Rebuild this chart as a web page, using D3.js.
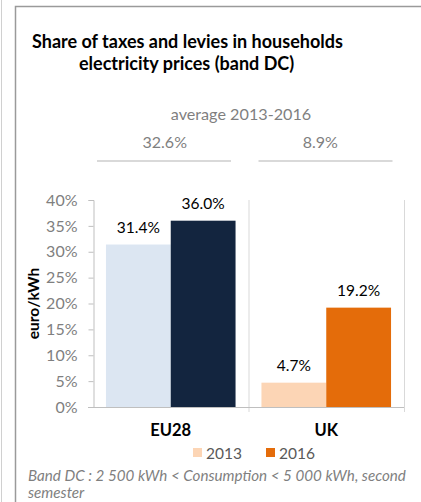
<!DOCTYPE html>
<head>
    <meta charset="utf-8">
    <title>Share of taxes and levies</title>
    <style>
        body { margin: 0; background: #fff; }
        text { font-family: Lato, "Open Sans", "Liberation Sans", sans-serif; }
    </style>
</head>
<body>

<script src="https://d3js.org/d3.v7.min.js"></script>

<script>

    var categories = ['EU28', 'UK'];
    var years = ['2013', '2016'];
    var values2013 = [0.314, 0.047];
    var values2016 = [0.360, 0.192];
    var averages = ['32.6%', '8.9%'];
    var yTicks = [0, 0.05, 0.10, 0.15, 0.20, 0.25, 0.30, 0.35, 0.40];

    var colors = {
        EU28: ['#dce6f2', '#13253f'],
        UK: ['#fcd5b5', '#e46c0a']
    };

    var width = 421, height = 502;
    var margin = {top: 200, right: 17, bottom: 95, left: 93};

    var svg = d3.select('body').append('svg')
        .attr('width', width)
        .attr('height', height);

    // frame
    svg.append('line')
        .attr('x1', 1.5).attr('x2', 1.5).attr('y1', 0).attr('y2', height)
        .attr('stroke', '#d0d0d0').attr('stroke-width', 1);
    svg.append('path')
        .attr('d', 'M15.5,' + height + 'V6.5H' + width)
        .attr('fill', 'none')
        .attr('stroke', '#9a9a9a')
        .attr('stroke-width', 1.5);

    var x = d3.scaleBand()
        .domain(categories)
        .range([margin.left, width - margin.right]);

    var xYear = d3.scaleBand()
        .domain(years)
        .range([0, x.bandwidth()])
        .paddingOuter(0.2);

    var y = d3.scaleLinear()
        .domain([0, 0.4])
        .range([height - margin.bottom, margin.top]);

    var data = categories.map(function(c, i) {
        return {cat: c, vals: [values2013[i], values2016[i]]};
    });

    // title
    svg.append('text')
        .attr('x', 32).attr('y', 48)
        .attr('font-size', '18px').attr('font-weight', 'bold')
        .text('Share of taxes and levies in households');
    svg.append('text')
        .attr('x', 79).attr('y', 70)
        .attr('font-size', '18px').attr('font-weight', 'bold')
        .text('electricity prices (band DC)');

    // averages header
    svg.append('text')
        .attr('x', 241).attr('y', 120)
        .attr('text-anchor', 'middle')
        .attr('font-size', '16.2px').attr('fill', '#7f7f7f')
        .text('average 2013-2016');

    svg.selectAll('.avg')
        .data(categories)
        .enter().append('text')
        .attr('class', 'avg')
        .attr('x', function(d) { return x(d) + x.bandwidth() / 2 - 6; })
        .attr('y', 148)
        .attr('text-anchor', 'middle')
        .attr('font-size', '16px').attr('fill', '#7f7f7f')
        .text(function(d, i) { return averages[i]; });

    var lineShift = [4, 10];
    svg.selectAll('.avgline')
        .data(categories)
        .enter().append('line')
        .attr('class', 'avgline')
        .attr('x1', function(d, i) { return x(d) + lineShift[i]; })
        .attr('x2', function(d, i) { return x(d) + lineShift[i] + 134; })
        .attr('y1', 161).attr('y2', 161)
        .attr('stroke', '#d9d9d9').attr('stroke-width', 2);

    // vertical separators
    svg.selectAll('.sep')
        .data(categories)
        .enter().append('line')
        .attr('class', 'sep')
        .attr('x1', function(d) { return x(d) + x.bandwidth() + 0.5; })
        .attr('x2', function(d) { return x(d) + x.bandwidth() + 0.5; })
        .attr('y1', y(0.4)).attr('y2', y(0) + 5)
        .attr('stroke', '#d9d9d9');

    // bars
    var group = svg.selectAll('.cat')
        .data(data)
        .enter().append('g')
        .attr('class', 'cat')
        .attr('transform', function(d) { return 'translate(' + x(d.cat) + ',0)'; });

    group.selectAll('rect')
        .data(function(d) { return d.vals.map(function(v, i) { return {cat: d.cat, year: years[i], v: v, i: i}; }); })
        .enter().append('rect')
        .attr('x', function(d) { return xYear(d.year); })
        .attr('width', xYear.bandwidth())
        .attr('y', function(d) { return y(d.v); })
        .attr('height', function(d) { return y(0) - y(d.v); })
        .attr('fill', function(d) { return colors[d.cat][d.i]; });

    group.selectAll('.lbl')
        .data(function(d) { return d.vals.map(function(v, i) { return {year: years[i], v: v}; }); })
        .enter().append('text')
        .attr('class', 'lbl')
        .attr('x', function(d) { return xYear(d.year) + xYear.bandwidth() / 2; })
        .attr('y', function(d) { return y(d.v) - 12; })
        .attr('text-anchor', 'middle')
        .attr('font-size', '15.5px').attr('fill', '#000')
        .text(function(d) { return d3.format('.1%')(d.v); });

    // y axis
    var yAxis = svg.append('g')
        .attr('transform', 'translate(' + (margin.left + 0.5) + ',0)')
        .call(d3.axisLeft(y).tickValues(yTicks).tickFormat(d3.format('.0%')).tickSize(5).tickPadding(11));
    yAxis.select('.domain').attr('stroke', '#bfbfbf');
    yAxis.selectAll('.tick line').attr('stroke', '#bfbfbf');
    yAxis.selectAll('.tick text')
        .attr('fill', '#7f7f7f')
        .attr('font-size', '16px')
        .attr('font-family', 'Lato, "Open Sans", sans-serif');

    // x axis
    var xAxis = svg.append('g')
        .attr('transform', 'translate(0,' + (y(0) + 0.5) + ')')
        .call(d3.axisBottom(x).tickSize(0).tickPadding(17));
    xAxis.select('.domain').attr('stroke', '#bfbfbf')
        .attr('d', 'M' + (margin.left - 5) + ',0H' + (width - margin.right));
    xAxis.selectAll('.tick text')
        .attr('fill', '#000')
        .attr('font-size', '16.5px')
        .attr('font-weight', 'bold')
        .attr('font-family', 'Lato, "Open Sans", sans-serif');

    // y title
    svg.append('text')
        .attr('transform', 'translate(39,' + ((y(0) + y(0.4)) / 2) + ') rotate(-90)')
        .attr('text-anchor', 'middle')
        .attr('font-size', '15.5px').attr('font-weight', 'bold')
        .text('euro/kWh');

    // legend
    var legendX = [193, 266];
    var legend = svg.selectAll('.legend')
        .data(years)
        .enter().append('g')
        .attr('class', 'legend')
        .attr('transform', function(d, i) { return 'translate(' + legendX[i] + ',448)'; });
    legend.append('rect')
        .attr('width', 9).attr('height', 9)
        .attr('fill', function(d, i) { return colors.UK[i]; });
    legend.append('text')
        .attr('x', 13).attr('y', 10.5)
        .attr('font-size', '15.5px').attr('fill', '#595959')
        .text(function(d) { return d; });

    // footnote
    svg.append('text')
        .attr('x', 28).attr('y', 481)
        .attr('font-size', '15.2px').attr('font-style', 'italic').attr('fill', '#7f7f7f')
        .text('Band DC : 2 500 kWh < Consumption < 5 000 kWh, second');
    svg.append('text')
        .attr('x', 28).attr('y', 498)
        .attr('font-size', '15.2px').attr('font-style', 'italic').attr('fill', '#7f7f7f')
        .text('semester');

</script>

</body>
